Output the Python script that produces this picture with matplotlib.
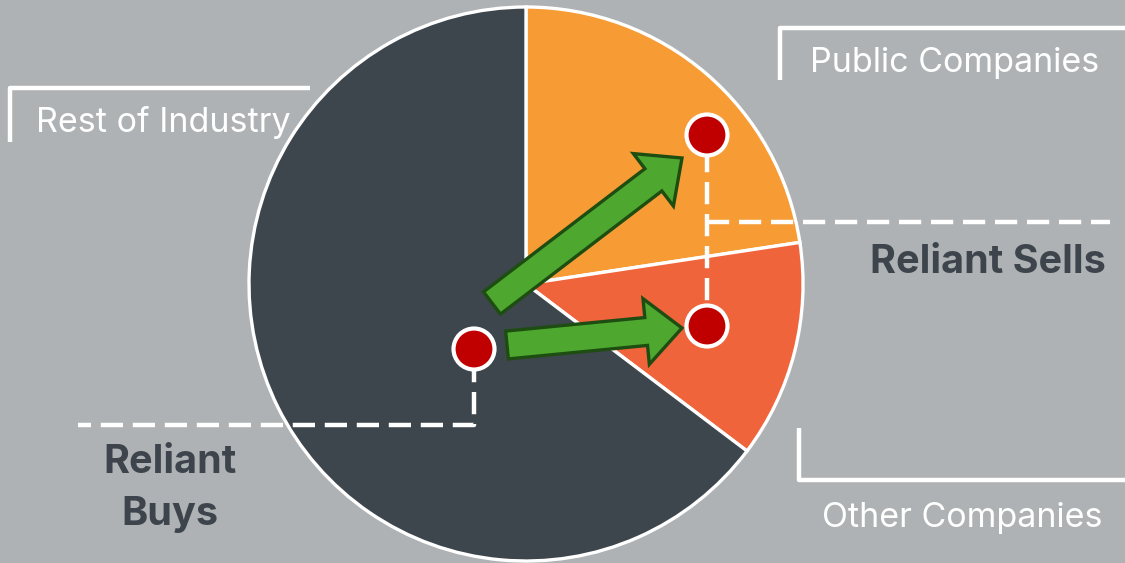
import matplotlib
matplotlib.use("Agg")
import matplotlib.pyplot as plt
from matplotlib.patches import FancyArrow, Circle

# ---- data ----
segments = ["Public Companies", "Other Companies", "Rest of Industry"]
shares = [22.6, 12.7, 64.7]
colors = ["#F79B34", "#F0643C", "#3D454D"]
explode = [0.0, 0.03, 0.0]
side_labels = ["Rest of Industry", "Public Companies", "Other Companies"]
flow_labels = ["Reliant\nBuys", "Reliant Sells"]

BG = "#AEB2B4"
W, H = 1125, 563

fig = plt.figure(figsize=(11.25, 5.63), dpi=100, facecolor=BG)
ax = fig.add_axes([0, 0, 1, 1])
ax.set_xlim(0, W)
ax.set_ylim(0, H)
ax.set_aspect("equal")
ax.axis("off")
ax.set_facecolor(BG)

def Y(yp):
    return H - yp

cx, cy, R = 526, Y(284), 277
ax.pie(shares, colors=colors, explode=explode, startangle=90, counterclock=False,
       center=(cx, cy), radius=R, frame=True,
       wedgeprops=dict(edgecolor="white", linewidth=2.4))
ax.set_xlim(0, W)
ax.set_ylim(0, H)
ax.axis("off")

# bracket lines for labels
lw_b = 3.2
ax.plot([10, 10, 310], [Y(142), Y(88), Y(88)], color="white", lw=lw_b, solid_capstyle="butt", zorder=3)
ax.plot([780, 780, 1125], [Y(80), Y(28), Y(28)], color="white", lw=lw_b, solid_capstyle="butt", zorder=3)
ax.plot([799, 799, 1125], [Y(428), Y(480), Y(480)], color="white", lw=lw_b, solid_capstyle="butt", zorder=3)

fnt = "Inter"
ax.text(36, Y(132), side_labels[0], color="white", fontsize=24.5, family=fnt, va="baseline", ha="left")
ax.text(810, Y(72), side_labels[1], color="white", fontsize=24.5, family=fnt, va="baseline", ha="left")
ax.text(822, Y(527), side_labels[2], color="white", fontsize=24.5, family=fnt, va="baseline", ha="left")

# dashed connector lines
dash = dict(color="white", lw=3.2, linestyle=(0, (5, 2.2)), zorder=4)
ax.plot([474, 474, 78], [Y(360), Y(425), Y(425)], **dash)
ax.plot([707, 707], [Y(150), Y(310)], **dash)
ax.plot([707, 1110], [Y(222), Y(222)], **dash)

buy_lines = flow_labels[0].split("\n")
for line, base in zip(buy_lines, [473, 525]):
    ax.text(170, Y(base), line, color="#3D444C", fontsize=28.5, family=fnt,
            fontweight="bold", ha="center", va="baseline")
ax.text(1106, Y(273), flow_labels[1], color="#3D444C", fontsize=28.5, family=fnt,
        fontweight="bold", ha="right", va="baseline")

# arrows
arrow_kw = dict(width=28, head_width=66, head_length=36, length_includes_head=True,
                facecolor="#4EA72E", edgecolor="#1E4D12", linewidth=2.4, zorder=5)
for (x0, y0), (x1, y1) in [((492, 303), (682, 158)), ((507, 345), (682, 328))]:
    ax.add_patch(FancyArrow(x0, Y(y0), x1 - x0, Y(y1) - Y(y0), **arrow_kw))

# dots
for (x, y) in [(474, 349), (707, 135), (707, 326)]:
    ax.add_patch(Circle((x, Y(y)), 20.5, facecolor="#C00000", edgecolor="white", linewidth=3, zorder=6))

fig.savefig("out.png", dpi=100, facecolor=BG)
